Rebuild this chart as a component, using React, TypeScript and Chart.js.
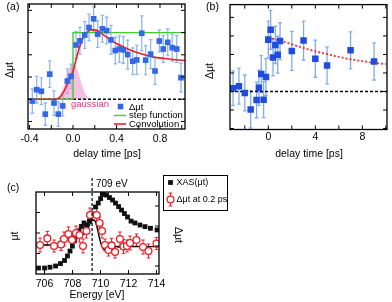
import React, { useEffect, useRef } from "react";
import { Chart, registerables } from "chart.js";
Chart.register(...registerables);

const W = 392;
const H = 302;
const FONT = '"Liberation Sans", Arial, Helvetica, sans-serif';

// ---------- panel (a) ----------
const A_X = [-0.374, -0.334, -0.291, -0.255, -0.214, -0.175, -0.135, -0.095, -0.052, -0.018, 0.028, 0.064, 0.108, 0.147, 0.19, 0.227, 0.27, 0.31, 0.349, 0.389, 0.426, 0.463, 0.503, 0.549, 0.586, 0.632, 0.668, 0.714, 0.754, 0.794, 0.83, 0.871, 0.913, 0.954, 0.993];
const A_Y = [-0.08, 0.43, 0.36, -0.67, 1.13, -0.17, -0.67, -0.3, 0.82, 1.03, 2.44, 2.63, 2.89, 3.23, 3.62, 2.93, 3.17, 3.09, 2.67, 2.19, 2.26, 2.22, 2.01, 1.71, 1.77, 2.97, 1.76, 2.03, 1.27, 2.62, 2.26, 2.56, 2.32, 2.26, 0.97];
const A_ERR = [0.55, 0.6, 0.6, 0.5, 0.6, 0.55, 0.55, 0.45, 0.55, 0.55, 0.6, 0.6, 0.6, 0.6, 0.55, 0.6, 0.6, 0.6, 0.65, 0.6, 0.6, 0.6, 0.65, 0.6, 0.65, 0.78, 0.65, 0.65, 0.6, 0.5, 0.6, 0.6, 0.6, 0.6, 0.65];
const A_CONV_X = [-0.414, -0.2, -0.15, -0.12, -0.09, -0.058, -0.028, 0.003, 0.034, 0.064, 0.095, 0.126, 0.15, 0.172, 0.195, 0.218, 0.248, 0.28, 0.32, 0.36, 0.4, 0.48, 0.555, 0.63, 0.708, 0.79, 0.862, 0.94, 1.03];
const A_CONV_Y = [0, 0, 0.01, 0.1, 0.3, 0.62, 0.94, 1.3, 1.9, 2.41, 2.78, 3.0, 3.09, 3.12, 3.12, 3.1, 3.01, 2.9, 2.76, 2.63, 2.51, 2.32, 2.16, 2.04, 1.93, 1.86, 1.82, 1.78, 1.74];
const A_GAUSS_X = [-0.17, -0.14, -0.12, -0.1, -0.08, -0.06, -0.04, -0.02, 0, 0.02, 0.04, 0.06, 0.08, 0.1, 0.12, 0.14, 0.17];
const A_GAUSS_Y = [0, 0.08, 0.2, 0.4, 0.68, 1.0, 1.3, 1.5, 1.56, 1.5, 1.3, 1.0, 0.68, 0.4, 0.2, 0.08, 0];
const A_STEP_X = [-0.414, 0, 0, 1.03];
const A_STEP_Y = [0, 0, 3, 3];
const A_XTICKS = [-0.4, -0.2, 0, 0.2, 0.4, 0.6, 0.8, 1.0];
const A_XLABEL_VALUES = [-0.4, 0, 0.4, 0.8];
const A_XLABELS = ["-0.4", "0.0", "0.4", "0.8"];
const A_YTICKS = [-1, 0, 1, 2, 3, 4];

// ---------- panel (b) ----------
const B_X = [-3, -2.5, -2, -1.5, -1, -0.8, -0.6, -0.4, -0.2, 0, 0.2, 0.4, 0.6, 0.8, 1, 2, 3, 4, 5, 7, 9];
const B_Y = [0.18, 0.29, -0.08, -0.97, -0.46, 0.2, 0.94, -0.44, 0.78, 2.8, 3.33, 1.84, 2.51, 1.99, 2.72, 2.19, 2.75, 1.77, 1.41, 2.22, 1.62];
const B_ERR = [0.93, 0.97, 0.97, 1.0, 0.97, 0.95, 1.0, 0.97, 1.0, 1.0, 1.05, 1.0, 1.0, 1.0, 1.0, 1.05, 1.05, 1.0, 1.0, 1.0, 1.0];
const B_FIT_X = [0, 1, 2, 3, 4, 5, 6, 7, 8, 9, 10];
const B_FIT_Y = [2.92, 2.75, 2.55, 2.35, 2.17, 2.02, 1.87, 1.74, 1.64, 1.55, 1.48];
const B_XTICKS = [-2, 0, 2, 4, 6, 8, 10];
const B_XLABEL_VALUES = [0, 4, 8];
const B_XLABELS = ["0", "4", "8"];
const B_YTICKS = [-2, -1, 0, 1, 2, 3, 4];

// ---------- panel (c) ----------
const C_XAS_E = [705.57, 706.0, 706.39, 706.79, 707.14, 707.43, 707.64, 707.82, 707.99, 708.13, 708.3, 708.46, 708.64, 708.82, 709.0, 709.21, 709.43, 709.64, 709.84, 710.01, 710.21, 710.43, 710.64, 710.86, 711.07, 711.29, 711.5, 711.71, 711.93, 712.18, 712.46, 712.82, 713.18, 713.57, 714.04];
const C_XAS = [0.29, 0.29, 0.33, 0.39, 0.51, 0.66, 0.88, 1.12, 1.36, 1.61, 1.85, 2.1, 2.32, 2.49, 2.39, 2.58, 2.93, 3.27, 3.46, 3.68, 3.88, 3.85, 3.73, 3.61, 3.46, 3.29, 3.12, 2.95, 2.78, 2.58, 2.49, 2.39, 2.31, 2.23, 2.15];
const C_D_E = [705.68, 706.2, 706.68, 707.18, 707.39, 707.71, 707.96, 708.25, 708.5, 708.75, 709.0, 709.25, 709.73, 709.93, 710.11, 710.32, 710.57, 710.79, 711.04, 711.39, 711.64, 711.89, 712.11, 712.57, 713.04, 713.43, 714.0];
const C_D = [0.05, 0.38, 0, 0.08, 0.35, 0.6, 0.3, 0.65, 0.55, 0, 0.75, 1.55, 1.55, 1.15, 0.75, 0.05, -0.2, 0.03, -0.3, 0.35, -0.03, 0, 0.15, 0.3, -0.05, -0.25, 0.12];
const C_D_ERR = [0.35, 0.35, 0.3, 0.3, 0.35, 0.35, 0.3, 0.35, 0.35, 0.35, 0.35, 0.35, 0.35, 0.3, 0.35, 0.3, 0.3, 0.35, 0.3, 0.35, 0.35, 0.3, 0.35, 0.3, 0.35, 0.35, 0.3];
const C_FIT_E = [705.39, 706.04, 706.75, 707.11, 707.32, 707.54, 707.82, 708.18, 708.54, 708.82, 709.04, 709.25, 709.46, 709.61, 709.75, 709.89, 710.04, 710.18, 710.32, 710.54, 710.75, 711.04, 711.39, 712.11, 714.18];
const C_FIT = [0.05, 0.05, 0.08, 0.15, 0.3, 0.43, 0.48, 0.5, 0.53, 0.6, 0.8, 1.1, 1.3, 1.25, 0.95, 0.5, 0.1, -0.13, -0.18, -0.13, -0.05, -0.03, -0.05, -0.03, -0.03];
const C_EDGE = 709.4;
const C_XTICKS = [706, 708, 710, 712, 714];
const C_XLABELS = ["706", "708", "710", "712", "714"];
const C_YTICKS = [1, 2, 3];
const C_Y1TICKS = [-1, 0, 1, 2];

const pts = (xs: number[], ys: number[]) => xs.map((x, i) => ({ x, y: ys[i] }));

type Txt = { text: string; x: number; y: number; size?: number; color?: string; align?: CanvasTextAlign; rot?: number };
type ErrBar = { xs: number[]; ys: number[]; err: number[]; color: string; width: number; cap: number; yAxis?: string };
type Decor = {
  xTicks: number[];
  yTicks: number[];
  y1Ticks?: number[];
  labelValues: number[];
  labels: string[];
  labelY: number;
  texts: Txt[];
  errorBars: ErrBar[];
  extra?: (chart: any) => void;
};

const TL = 4;

function text(ctx: CanvasRenderingContext2D, t: Txt) {
  ctx.save();
  ctx.fillStyle = t.color || "#000";
  ctx.font = `${t.size || 10}px ${FONT}`;
  ctx.textAlign = t.align || "center";
  ctx.textBaseline = "middle";
  ctx.translate(t.x, t.y);
  if (t.rot) ctx.rotate(t.rot);
  ctx.fillText(t.text, 0, 0);
  ctx.restore();
}

function makeDecor(cfg: Decor) {
  return {
    id: "decor",
    beforeDatasetsDraw(chart: any) {
      const ctx = chart.ctx as CanvasRenderingContext2D;
      const xs = chart.scales.x;
      for (const eb of cfg.errorBars) {
        const ys = chart.scales[eb.yAxis || "y"];
        ctx.save();
        ctx.strokeStyle = eb.color;
        ctx.lineWidth = eb.width;
        ctx.beginPath();
        eb.xs.forEach((xv, i) => {
          const px = xs.getPixelForValue(xv);
          const top = ys.getPixelForValue(eb.ys[i] + eb.err[i]);
          const bot = ys.getPixelForValue(eb.ys[i] - eb.err[i]);
          ctx.moveTo(px, top);
          ctx.lineTo(px, bot);
          ctx.moveTo(px - eb.cap, top);
          ctx.lineTo(px + eb.cap, top);
          ctx.moveTo(px - eb.cap, bot);
          ctx.lineTo(px + eb.cap, bot);
        });
        ctx.stroke();
        ctx.restore();
      }
    },
    afterDatasetsDraw(chart: any) {
      const ctx = chart.ctx as CanvasRenderingContext2D;
      const a = chart.chartArea;
      const xs = chart.scales.x;
      const ys = chart.scales.y;
      ctx.save();
      ctx.strokeStyle = "#000";
      ctx.lineWidth = 1.3;
      ctx.strokeRect(a.left, a.top, a.right - a.left, a.bottom - a.top);
      ctx.lineWidth = 1;
      ctx.beginPath();
      for (const v of cfg.xTicks) {
        const p = xs.getPixelForValue(v);
        ctx.moveTo(p, a.bottom);
        ctx.lineTo(p, a.bottom - TL);
        ctx.moveTo(p, a.top);
        ctx.lineTo(p, a.top + TL);
      }
      for (const v of cfg.yTicks) {
        const p = ys.getPixelForValue(v);
        ctx.moveTo(a.left, p);
        ctx.lineTo(a.left + TL, p);
        if (!cfg.y1Ticks) {
          ctx.moveTo(a.right, p);
          ctx.lineTo(a.right - TL, p);
        }
      }
      if (cfg.y1Ticks) {
        const y1 = chart.scales.y1;
        for (const v of cfg.y1Ticks) {
          const p = y1.getPixelForValue(v);
          ctx.moveTo(a.right, p);
          ctx.lineTo(a.right - TL, p);
        }
      }
      ctx.stroke();
      ctx.restore();
      cfg.labelValues.forEach((v, i) => {
        text(ctx, { text: cfg.labels[i], x: xs.getPixelForValue(v), y: cfg.labelY, size: 10.5 });
      });
      if (cfg.extra) cfg.extra(chart);
      for (const t of cfg.texts) text(ctx, t);
    },
  };
}

function drawSquare(ctx: CanvasRenderingContext2D, x: number, y: number, s: number, color: string) {
  ctx.fillStyle = color;
  ctx.fillRect(x - s / 2, y - s / 2, s, s);
}

function line(ctx: CanvasRenderingContext2D, x0: number, y0: number, x1: number, y1: number, color: string, w: number, dash: number[] = []) {
  ctx.save();
  ctx.strokeStyle = color;
  ctx.lineWidth = w;
  ctx.setLineDash(dash);
  ctx.beginPath();
  ctx.moveTo(x0, y0);
  ctx.lineTo(x1, y1);
  ctx.stroke();
  ctx.restore();
}

const BLUE_A = "#3467e3";
const BLUE_B = "#1f4be0";
const EB_A = "rgba(110,160,235,0.75)";
const EB_B = "rgba(100,150,230,0.8)";
const RED = "#e8202a";
const GREEN = "#3fcf2f";
const PINK = "#e0357a";

function configA(): any {
  return {
    type: "scatter",
    data: {
      datasets: [
        { data: pts(A_X, A_Y), pointStyle: "rect", pointRadius: 4, backgroundColor: BLUE_A, borderWidth: 0, order: 0 },
        { data: pts(A_CONV_X, A_CONV_Y), showLine: true, pointRadius: 0, borderColor: RED, borderWidth: 1.6, cubicInterpolationMode: "monotone", order: 1 },
        { data: pts(A_STEP_X, A_STEP_Y), showLine: true, pointRadius: 0, borderColor: GREEN, borderWidth: 1.4, order: 2 },
        { data: pts([-0.414, 1.03], [0, 0]), showLine: true, pointRadius: 0, borderColor: "#000", borderWidth: 1.4, borderDash: [3, 2], order: 3 },
        { data: pts(A_GAUSS_X, A_GAUSS_Y), showLine: true, pointRadius: 0, borderWidth: 0, borderColor: "rgba(0,0,0,0)", backgroundColor: "rgba(238,150,210,0.6)", fill: "origin", cubicInterpolationMode: "monotone", order: 5 },
      ],
    },
    options: {
      animation: false,
      responsive: false,
      devicePixelRatio: 1,
      layout: { padding: { left: 28, top: 3, right: W - 185, bottom: H - 129 } },
      plugins: { legend: { display: false }, tooltip: { enabled: false } },
      scales: {
        x: { type: "linear", min: -0.414, max: 1.03, display: false },
        y: { type: "linear", min: -1.339, max: 4.286, display: false },
      },
    },
    plugins: [
      makeDecor({
        xTicks: A_XTICKS,
        yTicks: A_YTICKS,
        labelValues: A_XLABEL_VALUES,
        labels: A_XLABELS,
        labelY: 139,
        errorBars: [{ xs: A_X, ys: A_Y, err: A_ERR, color: EB_A, width: 1.3, cap: 1.8 }],
        texts: [
          { text: "(a)", x: 13, y: 7, size: 10.5 },
          { text: "Δμt", x: 10, y: 70, size: 10.5, rot: -Math.PI / 2 },
          { text: "delay time [ps]", x: 107, y: 154, size: 10.5 },
          { text: "gaussian", x: 90, y: 104.5, size: 9.5, color: PINK },
          { text: "Δμt", x: 129, y: 107, size: 9.5, align: "left" },
          { text: "step function", x: 129, y: 115.5, size: 9.5, align: "left" },
          { text: "Convolution", x: 129, y: 124, size: 9.5, align: "left" },
        ],
        extra: (chart: any) => {
          const ctx = chart.ctx as CanvasRenderingContext2D;
          drawSquare(ctx, 120.5, 106.5, 5.6, BLUE_A);
          line(ctx, 114, 115.5, 126, 115.5, GREEN, 1.4);
          line(ctx, 114, 124, 126, 124, RED, 1.6);
        },
      }),
    ],
  };
}

function configB(): any {
  return {
    type: "scatter",
    data: {
      datasets: [
        { data: pts(B_X, B_Y), pointStyle: "rect", pointRadius: 4.6, backgroundColor: BLUE_B, borderWidth: 0, order: 0 },
        { data: pts(B_FIT_X, B_FIT_Y), showLine: true, pointRadius: 0, borderColor: "rgba(235,40,50,0.9)", borderWidth: 2, borderDash: [2, 2], cubicInterpolationMode: "monotone", order: 1 },
        { data: pts([-3.26, 10.1], [0, 0]), showLine: true, pointRadius: 0, borderColor: "#000", borderWidth: 1.4, borderDash: [3, 2], order: 2 },
      ],
    },
    options: {
      animation: false,
      responsive: false,
      devicePixelRatio: 1,
      layout: { padding: { left: 230, top: 2, right: W - 387, bottom: H - 129.5 } },
      plugins: { legend: { display: false }, tooltip: { enabled: false } },
      scales: {
        x: { type: "linear", min: -3.26, max: 10.1, display: false },
        y: { type: "linear", min: -2.05, max: 4.69, display: false },
      },
    },
    plugins: [
      makeDecor({
        xTicks: B_XTICKS,
        yTicks: B_YTICKS,
        labelValues: B_XLABEL_VALUES,
        labels: B_XLABELS,
        labelY: 137.5,
        errorBars: [{ xs: B_X, ys: B_Y, err: B_ERR, color: EB_B, width: 1.3, cap: 1.8 }],
        texts: [
          { text: "(b)", x: 212.5, y: 7, size: 10.5 },
          { text: "Δμt", x: 210, y: 71, size: 10.5, rot: -Math.PI / 2 },
          { text: "delay time [ps]", x: 309, y: 154, size: 10.5 },
        ],
      }),
    ],
  };
}

function configC(): any {
  return {
    type: "scatter",
    data: {
      datasets: [
        { data: pts(C_D_E, C_D), yAxisID: "y1", pointStyle: "circle", pointRadius: 3.4, borderColor: RED, borderWidth: 1.3, backgroundColor: "#fff", order: 0 },
        { data: pts(C_FIT_E, C_FIT), yAxisID: "y1", showLine: true, pointRadius: 0, borderColor: "#000", borderWidth: 1.4, cubicInterpolationMode: "monotone", order: 1 },
        { data: pts(C_XAS_E, C_XAS), yAxisID: "y", pointStyle: "rect", pointRadius: 3.4, backgroundColor: "#111", borderWidth: 0, order: 2 },
      ],
    },
    options: {
      animation: false,
      responsive: false,
      devicePixelRatio: 1,
      layout: { padding: { left: 36, top: 192, right: W - 159, bottom: H - 274 } },
      plugins: { legend: { display: false }, tooltip: { enabled: false } },
      scales: {
        x: { type: "linear", min: 705.39, max: 714.18, display: false },
        y: { type: "linear", position: "left", min: 0, max: 4, display: false },
        y1: { type: "linear", position: "right", min: -1.4, max: 2.7, display: false },
      },
    },
    plugins: [
      makeDecor({
        xTicks: C_XTICKS,
        yTicks: C_YTICKS,
        y1Ticks: C_Y1TICKS,
        labelValues: C_XTICKS,
        labels: C_XLABELS,
        labelY: 284,
        errorBars: [{ xs: C_D_E, ys: C_D, err: C_D_ERR, color: RED, width: 1, cap: 1.8, yAxis: "y1" }],
        texts: [
          { text: "(c)", x: 13, y: 188, size: 10.5 },
          { text: "μt", x: 15, y: 236, size: 10.5, rot: -Math.PI / 2 },
          { text: "Δμt", x: 178, y: 235, size: 10.5, rot: Math.PI / 2 },
          { text: "Energy [eV]", x: 97, y: 295, size: 10.5 },
          { text: "709 eV", x: 96, y: 184, size: 10, align: "left" },
          { text: "XAS(μt)", x: 176.5, y: 182.5, size: 9, align: "left" },
          { text: "Δμt at 0.2 ps", x: 176.5, y: 199.5, size: 9, align: "left" },
        ],
        extra: (chart: any) => {
          const ctx = chart.ctx as CanvasRenderingContext2D;
          const a = chart.chartArea;
          const px = chart.scales.x.getPixelForValue(C_EDGE);
          line(ctx, px, 178, px, a.bottom, "#000", 1.2, [3, 2]);
          ctx.save();
          ctx.strokeStyle = "#000";
          ctx.lineWidth = 1;
          ctx.strokeRect(163.5, 175.5, 64, 35);
          ctx.restore();
          drawSquare(ctx, 170.5, 182.5, 4.8, "#111");
          line(ctx, 170.5, 193, 170.5, 206, RED, 1);
          line(ctx, 168.7, 193, 172.3, 193, RED, 1);
          line(ctx, 168.7, 206, 172.3, 206, RED, 1);
          ctx.save();
          ctx.beginPath();
          ctx.arc(170.5, 199.5, 3.4, 0, Math.PI * 2);
          ctx.fillStyle = "#fff";
          ctx.fill();
          ctx.strokeStyle = RED;
          ctx.lineWidth = 1.3;
          ctx.stroke();
          ctx.restore();
        },
      }),
    ],
  };
}

function Panel({ make }: { make: () => any }) {
  const ref = useRef<HTMLCanvasElement | null>(null);
  useEffect(() => {
    if (!ref.current) return;
    const chart = new Chart(ref.current, make());
    return () => chart.destroy();
  }, [make]);
  return <canvas ref={ref} width={W} height={H} style={{ position: "absolute", left: 0, top: 0, width: W, height: H }} />;
}

export default function App() {
  return (
    <div style={{ position: "absolute", left: 0, top: 0, width: W, height: H, background: "#fff", overflow: "hidden" }}>
      <Panel make={configA} />
      <Panel make={configB} />
      <Panel make={configC} />
    </div>
  );
}
